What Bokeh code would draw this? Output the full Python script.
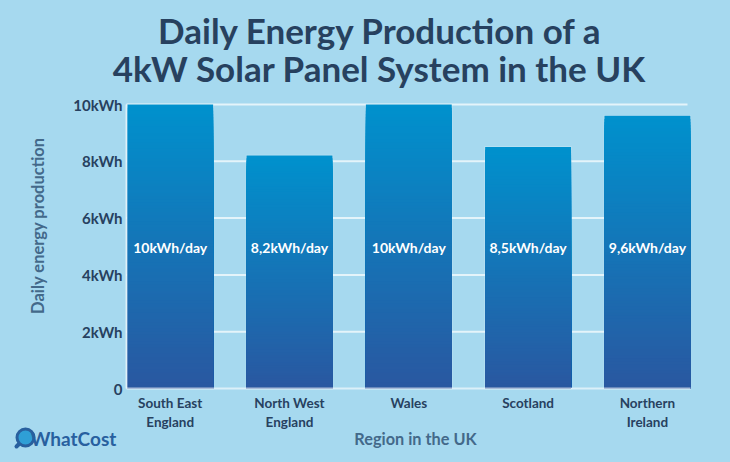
from bokeh.plotting import figure
from bokeh.models import Label, Range1d
from bokeh.embed import file_html
from bokeh.resources import INLINE
from bokeh.core.properties import value

regions = ["South East\nEngland", "North West\nEngland", "Wales", "Scotland", "Northern\nIreland"]
values = [10.0, 8.2, 10.0, 8.5, 9.6]
bar_labels = ["10kWh/day", "8,2kWh/day", "10kWh/day", "8,5kWh/day", "9,6kWh/day"]
y_ticks = [0, 2, 4, 6, 8, 10]
y_tick_labels = {0: "0", 2: "2kWh", 4: "4kWh", 6: "6kWh", 8: "8kWh", 10: "10kWh"}
title_lines = ["Daily Energy Production of a", "4kW Solar Panel System in the UK"]
x_title = "Region in the UK"
y_title = "Daily energy production"
brand = "WhatCost"

BG = "#a6d9ef"
DARK = "#27415f"
MUTED = "#43698a"
BRAND = "#28609f"
TOP = (0, 145, 205)
BOT = (42, 87, 160)
FONT = "Lato"

W, H = 730, 462
# pixel layout of the plotting area inside the full-canvas frame
X0_PX, STEP_PX = 169.7, 119.3      # centre of first bar, bar spacing
Y0_PX, UNIT_PX = 388.0, 28.4       # baseline, pixels per kWh
AXIS_LEFT_PX, AXIS_RIGHT_PX = 126.0, 690.0


def dx(px):
    return (px - X0_PX) / STEP_PX


def dy(py):
    return (Y0_PX - py) / UNIT_PX


xi = list(range(len(regions)))

p = figure(width=W, height=H, x_range=Range1d(dx(0), dx(W)), y_range=Range1d(dy(H), dy(0)),
           output_backend="svg", toolbar_location=None, title=None,
           min_border_left=0, min_border_right=0, min_border_top=0, min_border_bottom=0,
           background_fill_color=BG, border_fill_color=BG, outline_line_color=None)

p.grid.visible = False

yax = p.yaxis[0]
yax.fixed_location = dx(AXIS_LEFT_PX)
yax.bounds = (0, 10)
yax.ticker = y_ticks
yax.major_label_overrides = y_tick_labels
yax.major_label_text_font = FONT
yax.major_label_text_font_style = "bold"
yax.major_label_text_font_size = "15px"
yax.major_label_text_color = DARK
yax.major_tick_line_color = None
yax.minor_tick_line_color = None
yax.major_tick_out = 0
yax.major_tick_in = 0
yax.major_label_standoff = 4
yax.axis_line_color = "white"
yax.axis_line_alpha = 0.6
yax.axis_line_width = 2

xax = p.xaxis[0]
xax.fixed_location = 0
xax.bounds = (dx(AXIS_LEFT_PX), dx(AXIS_RIGHT_PX))
xax.ticker = xi
xax.major_label_overrides = dict(zip(xi, regions))
xax.major_label_text_font = FONT
xax.major_label_text_font_style = "bold"
xax.major_label_text_font_size = "13.5px"
xax.major_label_text_color = DARK
xax.major_tick_line_color = None
xax.minor_tick_line_color = None
xax.major_tick_out = 0
xax.major_tick_in = 0
xax.major_label_standoff = 6
xax.axis_line_color = "white"
xax.axis_line_alpha = 0.6
xax.axis_line_width = 2

# horizontal gridlines, stopping short of the last bar's right edge as in the reference
gy = [t for t in y_ticks if t > 0]
p.segment(x0=[dx(AXIS_LEFT_PX)] * len(gy), x1=[dx(687)] * len(gy), y0=gy, y1=gy,
          line_color="white", line_alpha=0.7, line_width=2)

BAR_W = 0.72
STRIPS = 90
xs, tops, colors = [], [], []
for r, v in zip(xi, values):
    for i in range(STRIPS, 0, -1):
        f = i / STRIPS
        c = tuple(int(round(BOT[k] + (TOP[k] - BOT[k]) * f)) for k in range(3))
        xs.append(r); tops.append(v * f)
        colors.append("#%02x%02x%02x" % c)

p.vbar(x=xi, top=values, width=BAR_W, fill_color=None, line_color="white", line_alpha=0.25, line_width=1.5,
       line_join="miter")
p.vbar(x=xs, bottom=0, top=tops, width=BAR_W, fill_color=colors, line_color=None)

p.text(x=xi, y=[4.95] * 5, text=bar_labels, text_color="white", text_align="center", text_baseline="middle",
       text_font=value(FONT), text_font_style="bold", text_font_size="14px")


def screen_label(text, x, y, **kw):
    p.add_layout(Label(x=x, y=H - y, x_units="screen", y_units="screen", text=text,
                       text_font=FONT, text_font_style="bold", text_baseline="middle", **kw))


screen_label(title_lines[0], 380, 29, text_font_size="35px", text_color=DARK, text_align="center")
screen_label(title_lines[1], 379, 67, text_font_size="35px", text_color=DARK, text_align="center")
screen_label(x_title, 415, 438, text_font_size="16.3px", text_color=MUTED, text_align="center")
screen_label(y_title, 37, 225, text_font_size="16.5px", text_color=MUTED, text_align="center",
             angle=90, angle_units="deg")
screen_label(brand, 30, 438, text_font_size="19px", text_color=BRAND, text_align="left")

# magnifier logo: handle, then lens
p.segment(x0=[dx(19)], y0=[dy(443)], x1=[dx(16)], y1=[dy(446)], line_color=BRAND, line_width=4, line_cap="round")
p.scatter(x=[dx(25)], y=[dy(437)], size=17, marker="circle", fill_color="#2f9fd6", line_color=BRAND, line_width=3)

html = file_html(p, INLINE)
html = html.replace("<head>", "<head><style>html,body{background:%s;}</style>" % BG, 1)
open("out.html", "w").write(html)
